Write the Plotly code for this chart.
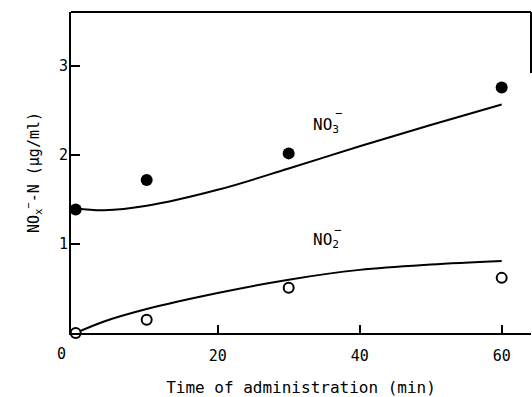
import plotly.graph_objects as go

# Measured points
time_pts = [0, 10, 30, 60]
no3_pts = [1.39, 1.72, 2.02, 2.76]
no2_pts = [0.0, 0.15, 0.51, 0.62]

# Fitted curves
time_fit = [0, 4, 10, 20, 30, 40, 50, 60]
no3_fit = [1.40, 1.38, 1.43, 1.61, 1.85, 2.10, 2.34, 2.57]
no2_fit = [0.0, 0.13, 0.27, 0.45, 0.60, 0.71, 0.77, 0.81]

x_ticks = [20, 40, 60]
y_ticks = [1, 2, 3]

FONT = "DejaVu Sans Mono"

fig = go.Figure()
fig.add_trace(go.Scatter(x=time_fit, y=no3_fit, mode="lines", line=dict(color="black", width=2, shape="spline"),
                         cliponaxis=False, showlegend=False))
fig.add_trace(go.Scatter(x=time_fit, y=no2_fit, mode="lines", line=dict(color="black", width=2, shape="spline"),
                         cliponaxis=False, showlegend=False))
fig.add_trace(go.Scatter(x=time_pts, y=no3_pts, mode="markers",
                         marker=dict(color="black", size=12, line=dict(color="black", width=0)),
                         cliponaxis=False, showlegend=False))
fig.add_trace(go.Scatter(x=time_pts, y=no2_pts, mode="markers",
                         marker=dict(color="white", size=10, line=dict(color="black", width=2)),
                         cliponaxis=False, showlegend=False))

fig.update_layout(
    width=532, height=397,
    margin=dict(l=71, r=1, t=12, b=64),
    plot_bgcolor="white", paper_bgcolor="white",
    font=dict(family=FONT, color="black", size=15),
    xaxis=dict(range=[-0.66, 64.13], tickvals=x_ticks, ticktext=[str(v) for v in x_ticks],
               ticks="inside", ticklen=8, tickwidth=2, tickcolor="black",
               showline=True, linecolor="black", linewidth=2, mirror=False,
               showgrid=False, zeroline=False, ticklabelstandoff=8,
               tickfont=dict(size=15, family=FONT),
               title=dict(text="Time of administration (min)", font=dict(size=16, family=FONT), standoff=20)),
    yaxis=dict(range=[0, 3.61], tickvals=y_ticks, ticktext=[str(v) for v in y_ticks],
               ticks="inside", ticklen=9, tickwidth=2, tickcolor="black",
               showline=True, linecolor="black", linewidth=2,
               showgrid=False, zeroline=False, ticklabelstandoff=-2,
               tickfont=dict(size=15, family=FONT),
               title=dict(text="NO<sub>x</sub><sup>−</sup>-N (μg/ml)", font=dict(size=15, family=FONT), standoff=16)),
    shapes=[
        dict(type="line", xref="paper", yref="paper", x0=0, x1=1, y0=1, y1=1,
             line=dict(color="black", width=2)),
        dict(type="line", xref="paper", yref="paper", x0=1, x1=1, y0=0.81, y1=1,
             line=dict(color="black", width=2)),
    ],
    annotations=[
        dict(text="0", xref="paper", yref="paper", x=-0.0196, y=0, yshift=-21,
             xanchor="center", yanchor="middle", showarrow=False,
             font=dict(size=15, family=FONT)),
        dict(text="NO<sub>3</sub>", xref="x", yref="y", x=33.2, y=2.33, xanchor="left", showarrow=False,
             font=dict(size=16, family=FONT)),
        dict(text="−", xref="x", yref="y", x=37.0, y=2.47, showarrow=False,
             font=dict(size=12, family=FONT)),
        dict(text="NO<sub>2</sub>", xref="x", yref="y", x=33.2, y=1.04, xanchor="left", showarrow=False,
             font=dict(size=16, family=FONT)),
        dict(text="−", xref="x", yref="y", x=36.9, y=1.16, showarrow=False,
             font=dict(size=12, family=FONT)),
    ],
)

fig.write_html("out.html")
